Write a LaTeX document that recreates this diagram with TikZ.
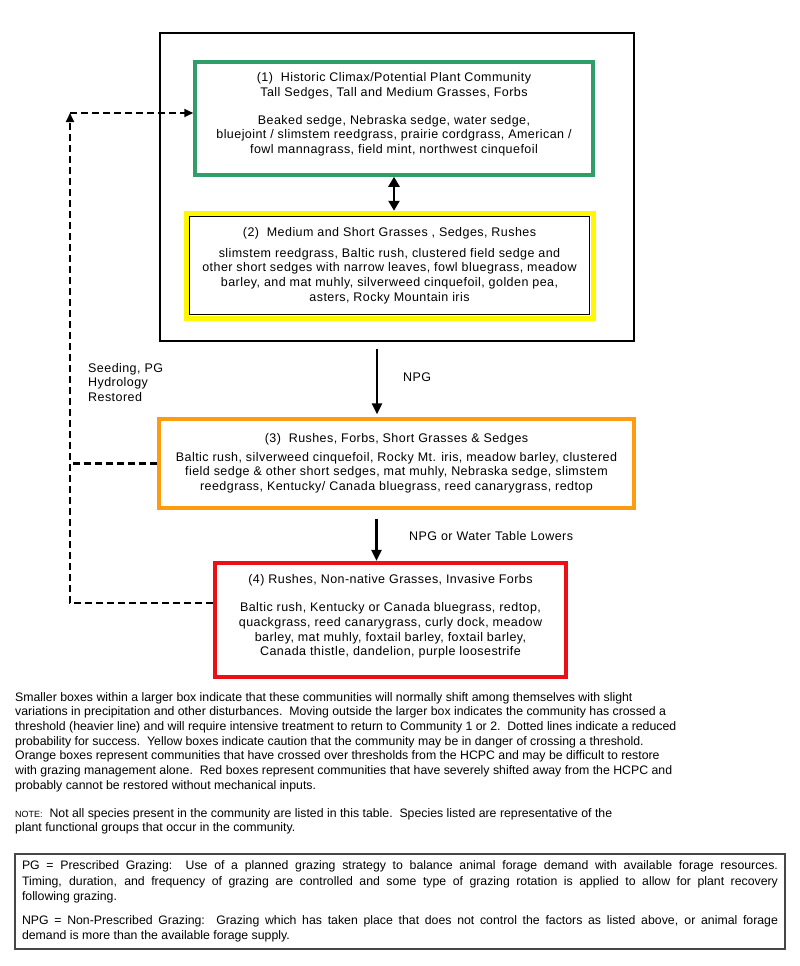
\documentclass[tikz,border=0pt]{standalone}
\usepackage{fontspec}
\setmainfont{Liberation Sans}
\newfontfamily\boxfont[LetterSpace=3.5]{Liberation Sans}
\usetikzlibrary{arrows.meta, calc, positioning}
\definecolor{climaxgreen}{RGB}{48,158,104}
\definecolor{cautionyellow}{RGB}{255,248,0}
\definecolor{crossedorange}{RGB}{255,155,15}
\definecolor{shiftedred}{RGB}{236,16,22}
\definecolor{legendgray}{RGB}{70,70,70}
\tikzstyle{statebox} = [rectangle, text centered, align=center, inner sep=0pt, font=\boxfont\fontsize{12.5}{14.8}\selectfont]
\tikzstyle{thresholdbox} = [rectangle, draw=black, line width=2.5pt, minimum width=474pt, minimum height=308pt]
\tikzstyle{climaxbox} = [statebox, draw=climaxgreen, line width=3.5pt, minimum width=398pt, minimum height=113pt]
\tikzstyle{cautionbox} = [statebox, draw=cautionyellow, line width=5pt, minimum width=407pt, minimum height=105pt, path picture={\draw[black, line width=1.2pt] ([shift={(3.5pt,-3.5pt)}]path picture bounding box.north west) rectangle ([shift={(-3.5pt,3.5pt)}]path picture bounding box.south east);}]
\tikzstyle{crossedbox} = [statebox, draw=crossedorange, line width=3.5pt, minimum width=475pt, minimum height=89pt]
\tikzstyle{shiftedbox} = [statebox, draw=shiftedred, line width=4pt, minimum width=351pt, minimum height=114pt]
\tikzstyle{arrowlabel} = [anchor=west, align=left, inner sep=0pt, font=\boxfont\fontsize{12.5}{14.5}\selectfont]
\tikzstyle{notes} = [anchor=north west, align=left, inner sep=0pt, font=\fontsize{12.3}{14.7}\selectfont]
\tikzstyle{glossary} = [rectangle, draw=legendgray, line width=1.3pt, minimum width=770pt, minimum height=95pt, text width=756pt, align=justify, inner sep=0pt, font=\fontsize{12.3}{15.5}\selectfont]
\tikzset{
	FARROW/.style={line width=2.5pt, arrows={-Triangle[length=11pt, width=10pt]}},
	DARROW/.style={line width=2.8pt, arrows={Triangle[length=10pt, width=11pt]-Triangle[length=10pt, width=11pt]}},
	DASHLINE/.style={line width=2.1pt, dash pattern=on 7pt off 4pt},
	DASHARROW/.style={DASHLINE, arrows={-Triangle[length=9pt, width=8pt]}}
}
\begin{document}
\begin{tikzpicture}[x=1pt, y=-1pt]
	\useasboundingbox (0,0) rectangle (800,966);
	\node (threshold) [thresholdbox] at (397,187) {};
	\node (climax) [climaxbox] at (394,118.5) {(1)\ \ Historic Climax/Potential Plant Community\\ Tall Sedges, Tall and Medium Grasses, Forbs\\[13pt] Beaked sedge, Nebraska sedge, water sedge,\\ bluejoint / slimstem reedgrass, prairie cordgrass, American /\\ fowl mannagrass, field mint, northwest cinquefoil\rule[-11pt]{0pt}{0pt}};
	\node (caution) [cautionbox, below=34pt of climax, xshift=-4.5pt] {(2)\ \ Medium and Short Grasses , Sedges, Rushes\\[6pt] slimstem reedgrass, Baltic rush, clustered field sedge and\\ other short sedges with narrow leaves, fowl bluegrass, meadow\\ barley, and mat muhly, silverweed cinquefoil, golden pea,\\ asters, Rocky Mountain iris};
	\node (crossed) [crossedbox, below=75pt of threshold, xshift=-0.5pt] {(3)\ \ Rushes, Forbs, Short Grasses \& Sedges\\[3.5pt] Baltic rush, silverweed cinquefoil, Rocky Mt. iris, meadow barley, clustered\\ field sedge \& other short sedges, mat muhly, Nebraska sedge, slimstem\\ reedgrass, Kentucky/ Canada bluegrass, reed canarygrass, redtop};
	\node (shifted) [shiftedbox, below=51pt of crossed, xshift=-6pt] {(4) Rushes, Non-native Grasses, Invasive Forbs\\[13pt] Baltic rush, Kentucky or Canada bluegrass, redtop,\\ quackgrass, reed canarygrass, curly dock, meadow\\ barley, mat muhly, foxtail barley, foxtail barley,\\ Canada thistle, dandelion, purple loosestrife\rule[-9pt]{0pt}{0pt}};
	% transitions
	\draw [DARROW] (climax.south) -- (climax.south |- caution.north);
	\draw [FARROW, shorten <=7pt, shorten >=3pt] ([xshift=-20pt]threshold.south) -- ([xshift=-20pt]threshold.south |- crossed.north);
	\draw [FARROW, shorten <=9pt] ([xshift=-20pt]crossed.south) -- ([xshift=-20pt]crossed.south |- shifted.north);
	\node (npg) [arrowlabel] at (403,377) {NPG};
	\node (lowers) [arrowlabel] at (409,536) {NPG or Water Table Lowers};
	\node (seeding) [arrowlabel, anchor=north west] at (88,363) {Seeding, PG\\ Hydrology\\ Restored};
	% restoration pathway
	\coordinate (restore) at (70,113);
	\draw [DASHARROW] ([yshift=17pt]shifted.west) -| (restore);
	\draw [DASHARROW] (restore) -- (restore -| climax.west);
	\draw [DASHLINE] (crossed.west) -- (crossed.west -| restore);
	% legend text
	\node (legend) [notes] at (15,692) {Smaller boxes within a larger box indicate that these communities will normally shift among themselves with slight\\ variations in precipitation and other disturbances.\ \ Moving outside the larger box indicates the community has crossed a\\ threshold (heavier line) and will require intensive treatment to return to Community 1 or 2.\ \ Dotted lines indicate a reduced\\ probability for success.\ \ Yellow boxes indicate caution that the community may be in danger of crossing a threshold.\\ Orange boxes represent communities that have crossed over thresholds from the HCPC and may be difficult to restore\\ with grazing management alone.\ \ Red boxes represent communities that have severely shifted away from the HCPC and\\ probably cannot be restored without mechanical inputs.};
	\node (note) [notes] at (15,808) {{\fontsize{9}{10}\selectfont NOTE:}\ \ Not all species present in the community are listed in this table.\ \ Species listed are representative of the\\ plant functional groups that occur in the community.};
	\node (grazing) [glossary] at (400,901.5) {PG = Prescribed Grazing:\ \ Use of a planned grazing strategy to balance animal forage demand with available forage resources.\linebreak Timing, duration, and frequency of grazing are controlled and some type of grazing rotation is applied to allow for plant recovery\linebreak following grazing.\par\vspace{8pt}NPG = Non-Prescribed Grazing:\ \ Grazing which has taken place that does not control the factors as listed above, or animal forage\linebreak demand is more than the available forage supply.};
\end{tikzpicture}
\end{document}
